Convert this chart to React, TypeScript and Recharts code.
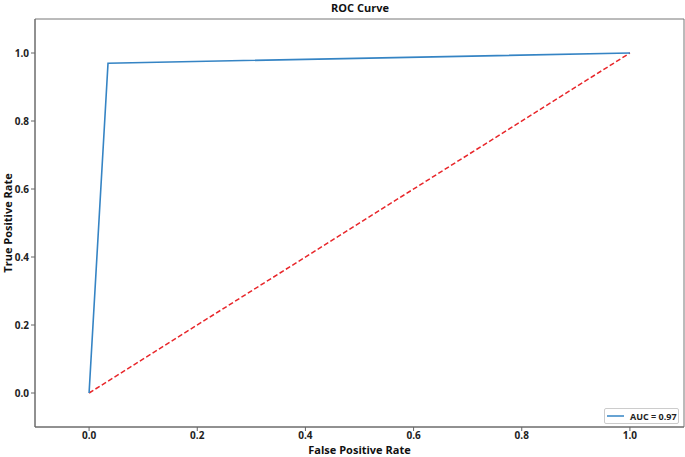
import {
  LineChart,
  Line,
  XAxis,
  YAxis,
  Label,
  Legend,
  ReferenceArea,
} from "recharts";

const rocFpr = [0.0, 0.035, 1.0];
const rocTpr = [0.0, 0.97, 1.0];
const chanceFpr = [0.0, 1.0];
const chanceTpr = [0.0, 1.0];
const ticks = [0.0, 0.2, 0.4, 0.6, 0.8, 1.0];
const aucLabel = "AUC = 0.97";

const rocData = rocFpr.map((x, i) => ({ x, y: rocTpr[i] }));
const chanceData = chanceFpr.map((x, i) => ({ x, y: chanceTpr[i] }));

const font = "'Open Sans', 'Noto Sans', sans-serif";
const tickStyle = { fontSize: 10, fontWeight: 700, fill: "#222", fontFamily: font };
const labelStyle = { fontSize: 11, fontWeight: 700, fill: "#111", fontFamily: font };

function LegendBox() {
  return (
    <div
      style={{
        boxSizing: "border-box",
        width: 75,
        height: 16,
        display: "flex",
        alignItems: "center",
        border: "1px solid #ccc",
        borderRadius: 2,
        background: "#fff",
        paddingLeft: 1,
        fontFamily: font,
        fontSize: 9,
        fontWeight: 700,
        color: "#222",
        whiteSpace: "nowrap",
        overflow: "visible",
      }}
    >
      <svg width={24} height={8} style={{ flex: "none" }}>
        <line x1={1} y1={4} x2={18} y2={4} stroke="#3584c4" strokeWidth={1.5} />
      </svg>
      {aucLabel}
    </div>
  );
}

export default function App() {
  return (
    <div style={{ position: "absolute", left: 0, top: 0, width: 685, height: 457, background: "#fff" }}>
      <div
        style={{
          position: "absolute",
          left: 0,
          width: 720,
          top: 1,
          textAlign: "center",
          fontFamily: font,
          fontSize: 11,
          fontWeight: 700,
          color: "#111",
          lineHeight: "14px",
        }}
      >
        ROC Curve
      </div>
      <LineChart width={685} height={457} margin={{ top: 19, right: 1, bottom: 0, left: 0 }}>
        <ReferenceArea x1={-0.1} x2={1.1} y1={-0.1} y2={1.1} fill="none" stroke="#777" strokeWidth={1} />
        <XAxis
          type="number"
          dataKey="x"
          domain={[-0.1, 1.1]}
          ticks={ticks}
          tickFormatter={(v: number) => v.toFixed(1)}
          allowDataOverflow
          height={30}
          tickSize={4}
          tickMargin={1}
          tick={tickStyle}
          stroke="#666"
        >
          <Label value="False Positive Rate" position="insideBottom" offset={3} style={labelStyle} />
        </XAxis>
        <YAxis
          type="number"
          dataKey="y"
          domain={[-0.1, 1.1]}
          ticks={ticks}
          tickFormatter={(v: number) => v.toFixed(1)}
          allowDataOverflow
          width={35}
          tickSize={4}
          tickMargin={2}
          tick={tickStyle}
          stroke="#666"
        >
          <Label
            value="True Positive Rate"
            angle={-90}
            position="insideLeft"
            offset={8}
            style={{ ...labelStyle, textAnchor: "middle" }}
          />
        </YAxis>
        <Line
          data={chanceData}
          dataKey="y"
          type="linear"
          stroke="#e8262a"
          strokeWidth={1.5}
          strokeDasharray="5 2.5"
          dot={false}
          isAnimationActive={false}
        />
        <Line
          data={rocData}
          dataKey="y"
          type="linear"
          stroke="#3584c4"
          strokeWidth={1.6}
          dot={false}
          isAnimationActive={false}
        />
        <Legend
          layout="horizontal"
          verticalAlign="middle"
          align="center"
          content={() => <LegendBox />}
          wrapperStyle={{ left: 604, top: 408, width: 75, height: 16 }}
        />
      </LineChart>
    </div>
  );
}
